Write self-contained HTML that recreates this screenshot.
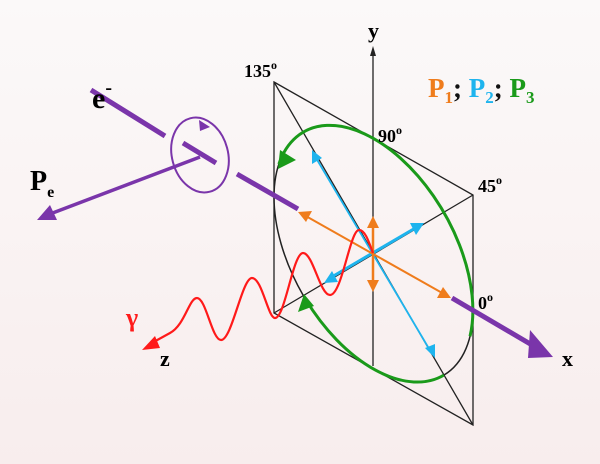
<!DOCTYPE html>
<html><head><meta charset="utf-8"><style>
html,body{margin:0;padding:0}
body{width:600px;height:464px;overflow:hidden;background:linear-gradient(#fbf9f9,#f8eded);}
svg{display:block}
text{font-family:"Liberation Serif",serif;font-weight:bold}
</style></head><body>
<svg width="600" height="464" viewBox="0 0 600 464">
<g stroke="#222" stroke-width="1.3" fill="none">
<polygon points="274,82 473,195 473,425 274,313"/>
<line x1="274" y1="82" x2="473" y2="425"/>
<line x1="473" y1="195" x2="274" y2="313"/>
<line x1="373" y1="52" x2="373" y2="366"/>
<g transform="matrix(99.5,56.5,0,-115.5,373.5,253.5)">
<ellipse cx="0" cy="0" rx="1" ry="1" vector-effect="non-scaling-stroke" stroke-width="1.5"/>
<path d="M0.970,-0.242 A1 1 0 0 1 -0.951,0.309" stroke="#1a9a1a" stroke-width="3" vector-effect="non-scaling-stroke"/>
<path d="M0.707,-0.707 A1 1 0 0 0 -0.682,-0.731" stroke="#1a9a1a" stroke-width="3" vector-effect="non-scaling-stroke"/>
</g>
</g>
<polygon points="373,46 370,56 376,56" fill="#222"/>
<polygon points="278,169 280,150 296,160" fill="#1a9a1a"/>
<polygon points="304,294 298,312 314,306" fill="#1a9a1a"/>
<g stroke="#1eb4ee" fill="#1eb4ee">
<line x1="316" y1="158" x2="431" y2="352" stroke-width="1.8"/>
<polygon points="312,150 312,164 322,158" stroke="none"/>
<polygon points="435,358 425,348 435,344" stroke="none"/>
<line x1="330" y1="278" x2="417" y2="227" stroke-width="3"/>
<polygon points="424,223 410,223 416,235" stroke="none"/>
<polygon points="324,283 332,271 338,282" stroke="none"/>
</g>
<g stroke="#ef7c1c" fill="#ef7c1c">
<line x1="304" y1="215" x2="444" y2="294" stroke-width="2"/>
<polygon points="298,212 312,211 306,222" stroke="none"/>
<polygon points="451,298 437,298 443,287" stroke="none"/>
<line x1="373" y1="224" x2="373" y2="284" stroke-width="2.5"/>
<polygon points="373,216 367,228 379,228" stroke="none"/>
<polygon points="373,292 367,280 379,280" stroke="none"/>
</g>
<path d="M150,344 L170,333 C185,325 189,298 197,298 C206,298 212,340 221,340 C232,340 242,278 252,278 C262,278 268,318 275,318 C285,318 293,253 303,253 C313,253 320,295 330,295 C342,295 350,230 359,230 C366,230 370,246 373,253" stroke="#ff1a1a" stroke-width="2.2" fill="none"/>
<polygon points="142,350 155,336 160,348" fill="#ff1a1a"/>
<g stroke="#7a35aa" stroke-width="5" fill="none">
<line x1="91" y1="90" x2="165" y2="136"/>
<line x1="183" y1="143" x2="216" y2="163"/>
<line x1="237" y1="174" x2="298" y2="209"/>
<line x1="452" y1="298" x2="532" y2="345"/>
<line x1="200" y1="157" x2="50" y2="214" stroke-width="3.5"/>
</g>
<polygon points="553,357 530,330 528,358" fill="#7a35aa"/>
<polygon points="37,220 50,205 57,220" fill="#7a35aa"/>
<ellipse cx="200" cy="155" rx="28" ry="38" transform="rotate(-15 200 155)" stroke="#7a35aa" stroke-width="2" fill="none"/>
<polygon points="210,127 199,120 200,131" fill="#7a35aa"/>
<text x="92" y="108" font-size="30">e<tspan font-size="20" dy="-14">-</tspan></text>
<text x="30" y="190" font-size="28">P<tspan font-size="16" dy="7">e</tspan></text>
<text x="244" y="77" font-size="18">135<tspan font-size="12" dy="-8">o</tspan></text>
<text x="368" y="38" font-size="22">y</text>
<text x="378" y="142" font-size="18">90<tspan font-size="12" dy="-8">o</tspan></text>
<text x="478" y="192" font-size="18">45<tspan font-size="12" dy="-8">o</tspan></text>
<text x="478" y="309" font-size="18">0<tspan font-size="12" dy="-8">o</tspan></text>
<text x="562" y="366" font-size="22">x</text>
<text x="160" y="366" font-size="22">z</text>
<text x="126" y="326" font-size="26" fill="#ff1a1a" font-weight="normal">γ</text>
<text x="428" y="97" font-size="27"><tspan fill="#ef7c1c">P</tspan><tspan fill="#ef7c1c" font-size="17" dy="6">1</tspan><tspan dy="-6" fill="#111">; </tspan><tspan fill="#1eb4ee">P</tspan><tspan fill="#1eb4ee" font-size="17" dy="6">2</tspan><tspan dy="-6" fill="#111">; </tspan><tspan fill="#1a9a1a">P</tspan><tspan fill="#1a9a1a" font-size="17" dy="6">3</tspan></text>
</svg>
</body></html>
